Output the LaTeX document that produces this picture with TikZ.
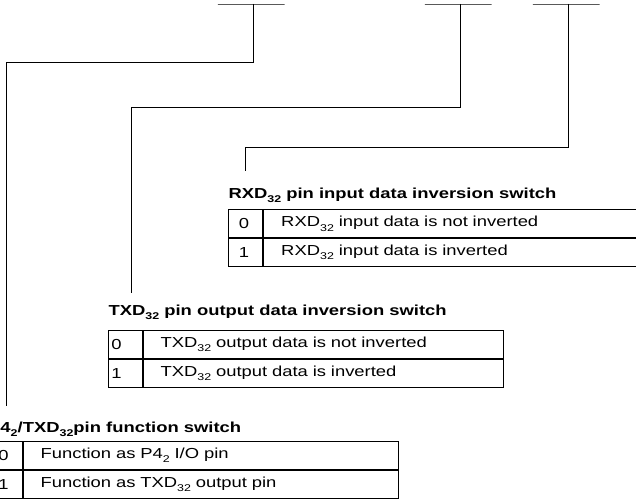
\documentclass[tikz,border=0pt]{standalone}
\usepackage{fontspec}
\setmainfont{Liberation Sans}[FakeStretch=1.27]
\usetikzlibrary{positioning}
\newcommand{\subidx}[1]{\raisebox{-4.5pt}{\fontsize{9.8}{10}\selectfont#1}}

\begin{document}
\begin{tikzpicture}[x=1pt, y=-1pt,
    every node/.style={font=\fontsize{14.5}{17}\selectfont},
    bar/.style={draw, line width=0.8pt, minimum width=66.7pt, minimum height=0pt, inner sep=0pt},
    lead/.style={line width=0.8pt},
    heading/.style={anchor=base west, inner sep=0pt, font=\fontsize{14.5}{17}\selectfont\bfseries},
    bitcell/.style={draw, line width=0.8pt, anchor=north west, minimum height=28pt,
                    inner ysep=0pt, align=left}
]
    \useasboundingbox (0,0) rectangle (636,500);

    % register bits
    \node[bar] (bar1) at (251.3,4) {};
    \node[bar] (bar2) at (458.3,4) {};
    \node[bar] (bar3) at (566.3,4) {};

    % free ends of the leads
    \coordinate (end1) at (6.3,406);
    \coordinate (end2) at (131.7,293.3);
    \coordinate (end3) at (245.7,171);

    \draw[lead] ([xshift=2.4pt]bar1.center) -- ++(0,58.3) -| (end1);
    \draw[lead] ([xshift=2.4pt]bar2.center) -- ++(0,103) -| (end2);
    \draw[lead] ([xshift=2.4pt]bar3.center) -- ++(0,143.7) -| (end3);

    % RXD32 inversion
    \node[heading] (rxdhead) at (228.3,198.3) {RXD\subidx{32} pin input data inversion switch};
    \node[bitcell, text width=13pt, inner xsep=10.8pt] (rxd0) at (227.7,209.3) {0};
    \node[bitcell, text width=352.3pt, inner xsep=17.7pt, right=0pt of rxd0] (rxd0t)
        {RXD\subidx{32} input data is not inverted};
    \node[bitcell, text width=13pt, inner xsep=10.8pt, below=0pt of rxd0] (rxd1) {1};
    \node[bitcell, text width=352.3pt, inner xsep=17.7pt, right=0pt of rxd1] (rxd1t)
        {RXD\subidx{32} input data is inverted};

    % TXD32 inversion
    \node[heading] (txdhead) at (108.3,315) {TXD\subidx{32} pin output data inversion switch};
    \node[bitcell, text width=28pt, inner xsep=2.7pt] (txd0) at (108.3,330) {0};
    \node[bitcell, text width=324.9pt, inner xsep=17.7pt, right=0pt of txd0] (txd0t)
        {TXD\subidx{32} output data is not inverted};
    \node[bitcell, text width=28pt, inner xsep=2.7pt, below=0pt of txd0] (txd1) {1};
    \node[bitcell, text width=324.9pt, inner xsep=17.7pt, right=0pt of txd1] (txd1t)
        {TXD\subidx{32} output data is inverted};

    % P42/TXD32 function
    \node[heading] (pinhead) at (-12,432.3) {P4\subidx{2}/TXD\subidx{32}pin function switch};
    \node[bitcell, text width=13pt, inner xsep=10.8pt] (pin0) at (-12.9,441) {0};
    \node[bitcell, text width=339.9pt, inner xsep=17.7pt, right=0pt of pin0] (pin0t)
        {Function as P4\subidx{2} I/O pin};
    \node[bitcell, text width=13pt, inner xsep=10.8pt, below=0pt of pin0] (pin1) {1};
    \node[bitcell, text width=339.9pt, inner xsep=17.7pt, right=0pt of pin1] (pin1t)
        {Function as TXD\subidx{32} output pin};
\end{tikzpicture}
\end{document}
